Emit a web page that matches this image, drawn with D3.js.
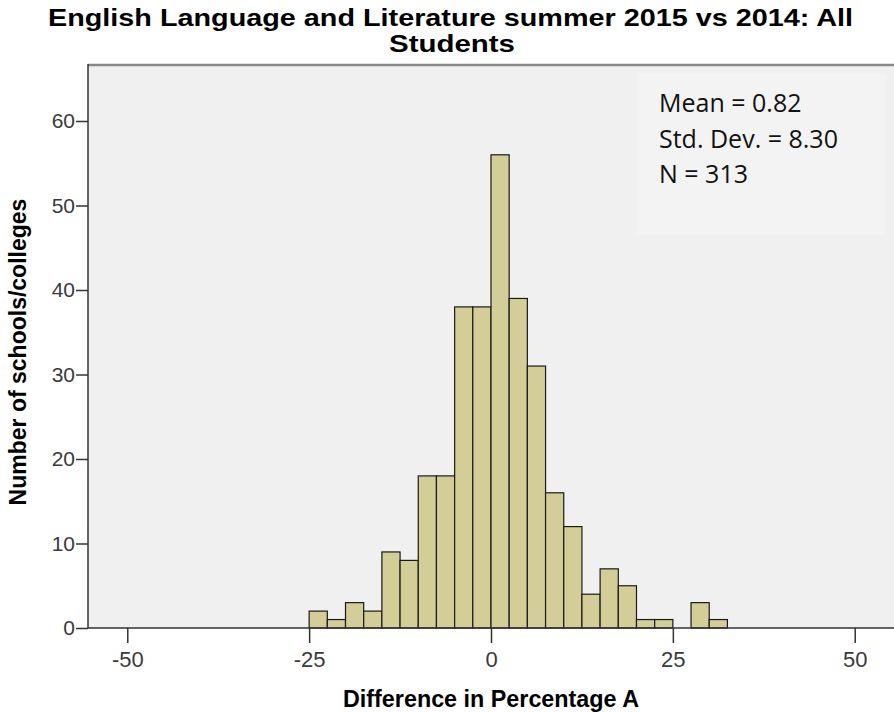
<!DOCTYPE html>
<html><head><meta charset="utf-8">
<script src="https://cdn.jsdelivr.net/npm/d3@7"></script>
<style>body{margin:0;background:#fff}svg{display:block}</style>
</head><body>
<svg id="c" width="894" height="712"></svg>
<script>
const binStarts = [-25,-22.5,-20,-17.5,-15,-12.5,-10,-7.5,-5,-2.5,0,2.5,5,7.5,10,12.5,15,17.5,20,22.5,25,27.5,30];
const counts    = [2,1,3,2,9,8,18,18,38,38,56,39,31,16,12,4,7,5,1,1,0,3,1];
const binWidth = 2.5;
const xTicks = [-50,-25,0,25,50];
const yTicks = [0,10,20,30,40,50,60];
const statsLines = ["Mean = 0.82","Std. Dev. = 8.30","N = 313"];
const titleLines = ["English Language and Literature summer 2015 vs 2014: All","Students"];

const svg = d3.select("#c");
const L=88, T=65, R=900, B=628;
const x = d3.scaleLinear().domain([-55.4,55.4]).range([L, L+2*(491-L)]);
const y = d3.scaleLinear().domain([0,60]).range([B,121]);
const sans = "Liberation Sans, Arial, sans-serif";

svg.append("rect").attr("x",L).attr("y",T).attr("width",R-L).attr("height",B-T).attr("fill","#f0f0f0");
svg.append("rect").attr("x",637).attr("y",73).attr("width",248).attr("height",162).attr("fill","#f3f3f3");

svg.append("g").selectAll("rect").data(binStarts.map((s,i)=>({s,c:counts[i]})).filter(d=>d.c>0))
 .join("rect")
 .attr("x",d=>x(d.s)).attr("width",d=>x(d.s+binWidth)-x(d.s))
 .attr("y",d=>y(d.c)).attr("height",d=>B-y(d.c))
 .attr("fill","#d3ce97").attr("stroke","#1a1a1a").attr("stroke-width",1.2);

// frame
svg.append("line").attr("x1",L).attr("x2",R).attr("y1",T).attr("y2",T).attr("stroke","#888").attr("stroke-width",2.5);
svg.append("line").attr("x1",L).attr("x2",L).attr("y1",T-1).attr("y2",B).attr("stroke","#333").attr("stroke-width",1.5);
svg.append("line").attr("x1",L).attr("x2",R).attr("y1",B).attr("y2",B).attr("stroke","#333").attr("stroke-width",1.5);

const xa = svg.append("g").attr("transform",`translate(0,${B})`)
 .call(d3.axisBottom(x).tickValues(xTicks).tickSize(15).tickPadding(8).tickFormat(d=>String(d)));
xa.select(".domain").remove();
xa.selectAll("line").attr("stroke","#333").attr("stroke-width",1.5);
xa.selectAll("text").attr("font-family",sans).attr("font-size",22).attr("fill","#3a3a3a");

const ya = svg.append("g").attr("transform",`translate(${L},0)`)
 .call(d3.axisLeft(y).tickValues(yTicks).tickSize(12).tickPadding(1).tickFormat(d=>String(d)));
ya.select(".domain").remove();
ya.selectAll("line").attr("stroke","#333").attr("stroke-width",1.5);
ya.selectAll("text").attr("font-family",sans).attr("font-size",21).attr("fill","#3a3a3a");

svg.append("g").selectAll("text").data(statsLines).join("text")
 .attr("x",659).attr("y",(d,i)=>112+i*35.5)
 .attr("font-family","Open Sans, Noto Sans, sans-serif").attr("font-size",25).attr("fill","#111")
 .text(d=>d);

const titleW = [805,126], titleX=[450.5,452], titleY=[26,52];
svg.append("g").selectAll("text").data(titleLines).join("text")
 .attr("x",(d,i)=>titleX[i]).attr("y",(d,i)=>titleY[i])
 .attr("text-anchor","middle")
 .attr("font-family",sans).attr("font-weight","bold").attr("font-size",24).attr("fill","#000")
 .attr("textLength",(d,i)=>titleW[i]).attr("lengthAdjust","spacingAndGlyphs")
 .text(d=>d);

svg.append("text").attr("x",491).attr("y",707).attr("text-anchor","middle")
 .attr("font-family",sans).attr("font-weight","bold").attr("font-size",23)
 .attr("textLength",296).attr("lengthAdjust","spacingAndGlyphs")
 .text("Difference in Percentage A");
svg.append("text").attr("transform","translate(26,352) rotate(-90)").attr("text-anchor","middle")
 .attr("font-family",sans).attr("font-weight","bold").attr("font-size",23)
 .text("Number of schools/colleges");
</script>
</body></html>
